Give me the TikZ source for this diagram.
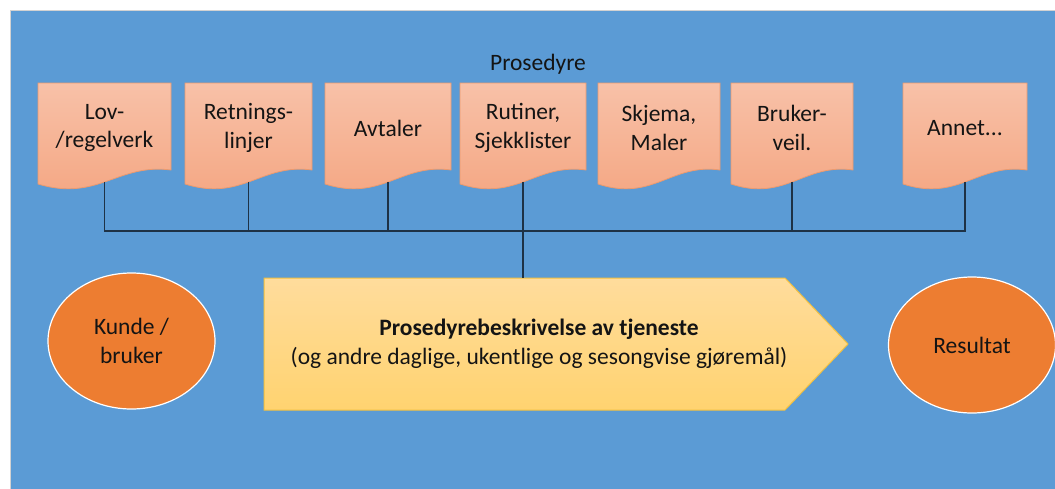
\documentclass[tikz,border=0pt]{standalone}
\usepackage{fontspec}
\setmainfont{Carlito}
\usetikzlibrary{shapes.geometric}
\definecolor{bgblue}{HTML}{5B9BD5}
\definecolor{doctop}{HTML}{F8C1A8}
\definecolor{docbot}{HTML}{F4A682}
\definecolor{docline}{HTML}{EC9A6E}
\definecolor{arrtop}{HTML}{FFDC9C}
\definecolor{arrbot}{HTML}{FFD370}
\definecolor{arrline}{HTML}{F2C040}
\definecolor{ellorange}{HTML}{ED7D31}
\definecolor{conn}{HTML}{1E3246}
\definecolor{txt}{HTML}{141414}
\tikzset{
  docfill/.style={top color=doctop, bottom color=docbot, draw=docline, line width=0.8pt},
  doctext/.style={align=center, text=txt, font=\fontsize{23.5}{28.5}\selectfont, inner sep=0pt},
  ellnode/.style={ellipse, fill=ellorange, draw=white, line width=1.2pt, minimum width=167pt, minimum height=136pt, inner sep=0pt, align=center, text=txt, font=\fontsize{23.5}{29}\selectfont},
  connector/.style={draw=conn, line width=1.4pt},
}
\newcommand\docshape[4]{%
  \path[docfill] (#2,83) -- (#3,83) -- (#3,170) .. controls ({#2+0.6*(#3-#2)},163) and ({#2+0.45*(#3-#2)},202) .. (#2,184) -- cycle;
  \node[doctext] (#1) at ({(#2+#3)/2},128) {#4};
  \coordinate (#1b) at ({(#2+#3)/2},182);
}
\begin{document}
\begin{tikzpicture}[x=1pt,y=-1pt]
\useasboundingbox (0,0) rectangle (1055,488);
\fill[white] (0,0) rectangle (1055,488);
\path[fill=bgblue, draw=gray!35, line width=1pt] (10,10) rectangle (1056,489);

\node[doctext] (title) at (538,64) {Prosedyre};

\docshape{d1}{38}{171}{Lov-\\/regelverk}
\docshape{d2}{185}{312}{Retnings-\\linjer}
\docshape{d3}{325}{451}{Avtaler}
\docshape{d4}{460}{586}{Rutiner,\\Sjekklister}
\docshape{d5}{598}{720}{Skjema,\\Maler}
\docshape{d6}{731}{853}{Bruker-\\veil.}
\docshape{d7}{903}{1027}{Annet...}

\coordinate (bus) at (0,231);
\path[top color=arrtop, bottom color=arrbot, draw=arrline, line width=1pt]
  (264,278) coordinate (arrNW) -- (785,278) -- (848,344) coordinate (arrtip) -- (785,410) -- (264,410) -- cycle;
\node[doctext] (proc) at (539,344) {\textbf{Prosedyrebeskrivelse av tjeneste}\\(og andre daglige, ukentlige og sesongvise gjøremål)};

\draw[connector] (d1b) -- (d1b |- bus) -- (d7b |- bus) -- (d7b);
\draw[connector] (d2b) -- (d2b |- bus);
\draw[connector] (d3b) -- (d3b |- bus);
\draw[connector] (d6b) -- (d6b |- bus);
\draw[connector] (d4b) -- (d4b |- arrNW);

\node[ellnode] (kunde) at (131.5,341) {Kunde /\\bruker};
\node[ellnode] (res) at (972,345) {Resultat};
\end{tikzpicture}
\end{document}
